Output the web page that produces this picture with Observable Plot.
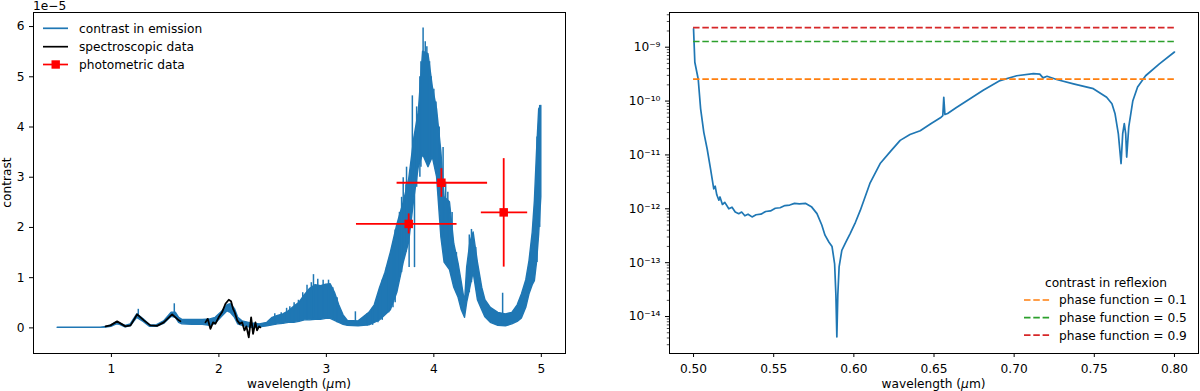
<!DOCTYPE html>
<html><head><meta charset="utf-8">
<script src="https://cdn.jsdelivr.net/npm/d3@7"></script>
<script src="https://cdn.jsdelivr.net/npm/@observablehq/plot@0.6"></script>
<style>
html,body{margin:0;padding:0;background:#fff;}
#wrap{position:relative;width:1200px;height:391px;overflow:hidden;font-family:"DejaVu Sans",sans-serif;}
#left,#right,#overlay{position:absolute;top:0;}
#left{left:0}#right{left:600px}
#overlay{left:0;pointer-events:none}
</style></head><body>
<div id="wrap"><div id="left"></div><div id="right"></div><svg id="overlay" width="1200" height="391"></svg></div>
<script>
// ---------- LEFT PANEL DATA (contrast, in units of 1e-5) ----------
const emisWl = [0.50,0.90,0.95,1.00,1.05,1.08,1.13,1.18,1.24,1.30,1.36,1.42,1.49,1.56,1.60,1.63,1.66,1.75,1.85,1.92,1.97,2.03,2.08,2.11,2.15,2.18,2.22,2.30,2.38,2.45,2.50,2.55,2.60,2.65,2.70,2.75,2.80,2.85,2.90,2.95,3.00,3.04,3.08,3.12,3.16,3.20,3.30,3.40,3.45,3.50,3.55,3.60,3.66,3.72,3.77,3.82,3.86,3.90,3.95,3.99,4.03,4.07,4.10,4.15,4.19,4.23,4.26,4.29,4.31,4.34,4.37,4.41,4.45,4.48,4.53,4.60,4.67,4.73,4.78,4.82,4.86,4.89,4.92,4.94,4.96,4.98,5.00];
const emisLo = [0,0,0.005,0.02,0.07,0.06,0.01,0.03,0.20,0.12,0.02,0.02,0.08,0.22,0.20,0.10,0.07,0.06,0.06,0.04,0.08,0.22,0.33,0.30,0.20,0.07,0.04,0.00,0.01,0.03,0.05,0.07,0.08,0.10,0.10,0.12,0.15,0.15,0.16,0.16,0.18,0.18,0.14,0.10,0.06,0.04,0.03,0.05,0.10,0.15,0.25,0.35,0.70,1.30,1.70,2.60,3.20,3.45,3.20,3.40,3.00,1.80,1.30,1.15,0.80,0.60,0.35,0.20,0.50,0.80,1.10,0.55,0.35,0.21,0.10,0.04,0.03,0.07,0.12,0.19,0.40,0.67,0.85,0.93,1.30,1.86,2.60];
const emisHi = [0.005,0.005,0.02,0.05,0.11,0.09,0.04,0.07,0.27,0.17,0.05,0.05,0.13,0.30,0.30,0.20,0.16,0.16,0.16,0.17,0.20,0.32,0.45,0.47,0.37,0.20,0.13,0.09,0.07,0.10,0.20,0.24,0.27,0.33,0.42,0.50,0.65,0.78,0.85,0.83,0.86,0.87,0.70,0.45,0.25,0.14,0.13,0.30,0.45,0.80,1.10,1.50,2.05,2.50,2.95,3.80,4.30,5.50,5.45,4.80,4.35,3.50,2.60,2.50,1.67,1.28,0.90,0.50,1.20,1.70,1.90,1.30,0.80,0.55,0.40,0.30,0.27,0.30,0.45,0.67,0.95,1.33,1.90,2.52,3.50,4.35,4.42];
const spikeWl = [1.25,1.585,2.52,2.58,2.63,2.66,2.70,2.74,2.78,2.82,2.86,2.88,2.92,2.97,3.02,3.06,3.10,3.27,3.38,3.43,3.48,3.52,3.56,3.58,3.62,3.64,3.68,3.70,3.715,3.74,3.746,3.77,3.80,3.82,3.84,3.87,3.88,3.90,3.92,3.935,3.96,3.975,4.00,4.02,4.05,4.086,4.11,4.13,4.17,4.21,4.33,4.35,4.39,4.64,4.96,4.985];
const spikeLo = [0.20,0.25,0.05,0.07,0.10,0.10,0.10,0.12,0.14,0.15,0.15,0.20,0.16,0.20,0.18,0.15,0.10,0.04,0.04,0.05,0.10,0.15,0.30,0.30,0.40,0.50,1.00,1.10,1.30,1.50,1.70,1.20,2.60,1.20,2.80,3.00,3.20,3.40,3.40,3.30,3.30,3.40,3.30,3.10,2.40,1.80,1.30,1.20,1.00,0.70,0.70,0.90,0.80,0.05,1.30,2.00];
const spikeHi = [0.37,0.48,0.28,0.30,0.39,0.42,0.50,0.55,0.70,0.85,0.90,1.06,0.97,0.95,0.95,0.80,0.60,0.32,0.28,0.40,0.60,0.95,1.20,1.35,1.70,1.95,2.30,2.60,2.99,2.85,3.20,2.90,4.62,3.80,4.40,5.00,5.30,5.97,5.70,5.60,5.30,5.00,4.75,4.50,4.00,3.59,2.90,2.70,2.30,1.50,1.85,1.96,1.60,0.69,3.80,4.43];

const spec1Wl = [0.945,0.991,1.053,1.084,1.131,1.178,1.240,1.302,1.363,1.425,1.487,1.565,1.627,1.642];
const spec1Val = [0.03,0.05,0.13,0.09,0.03,0.05,0.27,0.15,0.05,0.04,0.11,0.27,0.15,0.13];
const spec2Wl = [1.875,1.896,1.921,1.946,1.967,1.998,2.029,2.061,2.092,2.113,2.132,2.147,2.170,2.195,2.216,2.238,2.256,2.278,2.300,2.318,2.340,2.355,2.374,2.386];
const spec2Val = [0.11,0.18,-0.02,0.11,0.08,0.21,0.31,0.48,0.56,0.53,0.38,0.31,0.15,0.08,0.11,-0.05,0.03,-0.19,0.21,-0.12,0.11,-0.05,0.03,0.01];

const photWl = [3.766,4.07,4.65];
const photVal = [2.07,2.89,2.30];
const photWlLo = [3.28,3.658,4.442];
const photWlHi = [4.216,4.50,4.873];
const photValLo = [1.87,2.60,1.21];
const photValHi = [2.27,3.17,3.37];

const leftXTicks = [1,2,3,4,5];
const leftYTicks = [0,1,2,3,4,5,6];

// ---------- RIGHT PANEL DATA (log10 of contrast) ----------
const reflWl = [0.5000,0.5008,0.5029,0.5044,0.5064,0.5085,0.5106,0.5126,0.5135,0.5145,0.5158,0.5165,0.5180,0.5195,0.5220,0.5240,0.5260,0.5282,0.5300,0.5320,0.5340,0.5365,0.5390,0.5420,0.5450,0.5480,0.5510,0.5540,0.5570,0.5600,0.5630,0.5660,0.5700,0.5735,0.5770,0.5800,0.5820,0.5845,0.5864,0.5880,0.5888,0.5894,0.5900,0.5908,0.5925,0.5950,0.5977,0.6010,0.6040,0.6070,0.6100,0.6164,0.6230,0.6289,0.6350,0.6414,0.6480,0.6540,0.6555,0.6561,0.6568,0.6585,0.6640,0.6703,0.6807,0.6912,0.7016,0.7120,0.7160,0.7180,0.7205,0.7265,0.7370,0.7494,0.7577,0.7610,0.7629,0.7650,0.7667,0.7677,0.7687,0.7696,0.7702,0.7715,0.7740,0.7770,0.7820,0.7906,0.8000];
const reflLog = [-8.66,-9.28,-9.59,-10.14,-10.58,-10.89,-11.26,-11.63,-11.58,-11.74,-11.84,-11.78,-11.92,-11.88,-12.00,-11.97,-12.06,-12.09,-12.06,-12.13,-12.10,-12.15,-12.11,-12.10,-12.05,-12.04,-11.99,-11.98,-11.94,-11.93,-11.90,-11.91,-11.90,-11.96,-12.09,-12.30,-12.49,-12.62,-12.70,-13.02,-13.60,-14.38,-13.60,-13.08,-12.77,-12.62,-12.46,-12.25,-12.03,-11.78,-11.53,-11.16,-10.93,-10.73,-10.62,-10.55,-10.42,-10.31,-10.27,-9.93,-10.25,-10.23,-10.12,-10.00,-9.80,-9.62,-9.53,-9.49,-9.50,-9.57,-9.54,-9.60,-9.68,-9.77,-9.93,-10.05,-10.23,-10.61,-11.16,-10.61,-10.42,-10.61,-11.04,-10.48,-10.00,-9.74,-9.53,-9.31,-9.09];
const phaseLabels = ["phase function = 0.1","phase function = 0.5","phase function = 0.9"];
const phaseVal = [2.55e-10, 1.275e-9, 2.30e-9];
const phaseColors = ["#ff7f0e","#2ca02c","#d62728"];
const phaseStart = 0.5, phaseEnd = 0.8;
const rightXTicks = [0.50,0.55,0.60,0.65,0.70,0.75,0.80];
const rightYTicks = [1e-14,1e-13,1e-12,1e-11,1e-10,1e-9];

// ---------- BUILD ----------
const BLUE = "#1f77b4";
const FONT = {fontFamily: "DejaVu Sans", fontSize: "12.2px", background: "white", color: "black", overflow: "visible"};

const emis = emisWl.map((w, i) => ({w, lo: emisLo[i], hi: emisHi[i]}));
const spikes = spikeWl.map((w, i) => ({w, lo: spikeLo[i], hi: spikeHi[i]}));
const spec1 = spec1Wl.map((w, i) => ({w, v: spec1Val[i]}));
const spec2 = spec2Wl.map((w, i) => ({w, v: spec2Val[i]}));
const phot = photWl.map((w, i) => ({w, v: photVal[i], wl: photWlLo[i], wh: photWlHi[i], vl: photValLo[i], vh: photValHi[i]}));

const left = Plot.plot({
  width: 600, height: 391,
  marginLeft: 33, marginRight: 35, marginTop: 12, marginBottom: 38,
  style: FONT,
  x: {domain: [0.275, 5.225]},
  y: {domain: [-0.51, 6.28]},
  marks: [
    Plot.areaY(emis, {x: "w", y1: "lo", y2: "hi", fill: BLUE, stroke: BLUE, strokeWidth: 1.4}),
    Plot.ruleX(spikes, {x: "w", y1: "lo", y2: "hi", stroke: BLUE, strokeWidth: 1.5}),
    Plot.line(spec1, {x: "w", y: "v", stroke: "black", strokeWidth: 1.8}),
    Plot.line(spec2, {x: "w", y: "v", stroke: "black", strokeWidth: 1.8}),
    Plot.ruleY(phot, {y: "v", x1: "wl", x2: "wh", stroke: "#ff0000", strokeWidth: 1.8}),
    Plot.ruleX(phot, {x: "w", y1: "vl", y2: "vh", stroke: "#ff0000", strokeWidth: 1.8}),
    Plot.dot(phot, {x: "w", y: "v", symbol: "square", r: 4.8, fill: "#ff0000", stroke: "none"}),
    Plot.axisX({ticks: leftXTicks, tickFormat: d3.format("d"), tickSize: 4, tickPadding: 7, label: null}),
    Plot.axisY({ticks: leftYTicks, tickFormat: d3.format("d"), tickSize: 4, tickPadding: 5, label: null}),
    Plot.frame({stroke: "black", strokeWidth: 1})
  ]
});
document.getElementById("left").appendChild(left);

const supMap = {"-": "\u207b", "0": "\u2070", "1": "\u00b9", "2": "\u00b2", "3": "\u00b3", "4": "\u2074", "5": "\u2075", "6": "\u2076", "7": "\u2077", "8": "\u2078", "9": "\u2079"};
const logFmt = d => "10" + String(Math.round(Math.log10(d))).split("").map(c => supMap[c]).join("");
const minorTicks = [];
for (let k = -15; k <= -8; k++) for (let m = 2; m <= 9; m++) {
  const v = m * Math.pow(10, k);
  if (v > Math.pow(10, -14.686) && v < Math.pow(10, -8.356)) minorTicks.push(v);
}
const refl = reflWl.map((w, i) => ({w, c: Math.pow(10, reflLog[i])}));
const phases = phaseVal.map((v, i) => ({v, color: phaseColors[i], label: phaseLabels[i]}));

const right = Plot.plot({
  width: 600, height: 391,
  marginLeft: 69, marginRight: 2, marginTop: 12, marginBottom: 38,
  style: FONT,
  x: {domain: [0.485, 0.815]},
  y: {type: "log", domain: [Math.pow(10, -14.686), Math.pow(10, -8.356)]},
  marks: [
    Plot.line(refl, {x: "w", y: "c", stroke: BLUE, strokeWidth: 1.7}),
    Plot.ruleY(phases, {y: "v", x1: phaseStart, x2: phaseEnd, stroke: "color", strokeWidth: 1.7, strokeDasharray: "6.5,2.8"}),
    Plot.axisX({ticks: rightXTicks, tickFormat: d3.format(".2f"), tickSize: 4, tickPadding: 7, label: null}),
    Plot.axisY({ticks: minorTicks, tickFormat: () => "", tickSize: 2.2, strokeWidth: 0.7, label: null}),
    Plot.axisY({ticks: rightYTicks, tickFormat: logFmt, tickSize: 4, tickPadding: 5, label: null}),
    Plot.frame({stroke: "black", strokeWidth: 1})
  ]
});
document.getElementById("right").appendChild(right);

// ---------- labels & legends ----------
const ov = d3.select("#overlay").attr("font-family", "DejaVu Sans").attr("font-size", "12.2px").attr("fill", "black");
ov.append("text").attr("x", 33).attr("y", 9.5).text("1e\u22125");
ov.append("text").attr("transform", "translate(10.5,182.5) rotate(-90)").attr("text-anchor", "middle").text("contrast");
for (const cx of [299, 933.5]) {
  const t = ov.append("text").attr("x", cx).attr("y", 388).attr("text-anchor", "middle");
  t.append("tspan").text("wavelength (");
  t.append("tspan").attr("font-style", "italic").text("\u03bc");
  t.append("tspan").text("m)");
}
// left legend
const leftLegend = [
  {label: "contrast in emission", color: BLUE, y: 28.3},
  {label: "spectroscopic data", color: "black", y: 46.7},
  {label: "photometric data", color: "#ff0000", y: 64.5, marker: true}
];
for (const e of leftLegend) {
  ov.append("line").attr("x1", 43).attr("x2", 68).attr("y1", e.y).attr("y2", e.y).attr("stroke", e.color).attr("stroke-width", 1.7);
  if (e.marker) ov.append("rect").attr("x", 51.5).attr("y", e.y - 4.2).attr("width", 8.4).attr("height", 8.4).attr("fill", e.color);
  ov.append("text").attr("x", 79).attr("y", e.y + 4.4).text(e.label);
}
// right legend
ov.append("text").attr("x", 1106).attr("y", 286.5).attr("text-anchor", "middle").text("contrast in reflexion");
phases.forEach((p, i) => {
  const y = 300 + i * 17.6;
  ov.append("line").attr("x1", 1024).attr("x2", 1050).attr("y1", y).attr("y2", y).attr("stroke", p.color).attr("stroke-width", 1.7).attr("stroke-dasharray", "6.5,2.8");
  ov.append("text").attr("x", 1059).attr("y", y + 4.4).text(p.label);
});
</script>
</body></html>
